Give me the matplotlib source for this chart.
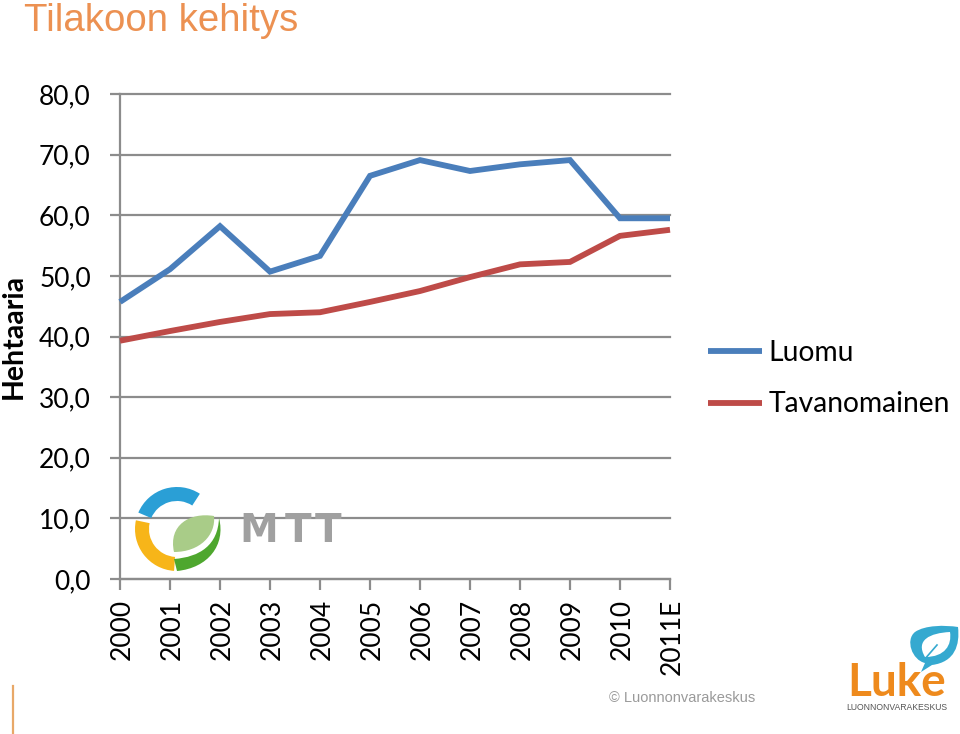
import matplotlib
matplotlib.use("Agg")
import matplotlib.pyplot as plt
from matplotlib.patches import Wedge, PathPatch
from matplotlib.path import Path
from matplotlib.transforms import ScaledTranslation

years = ['2000', '2001', '2002', '2003', '2004', '2005', '2006', '2007', '2008', '2009', '2010', '2011E']
luomu = [45.7, 51.1, 58.2, 50.7, 53.3, 66.5, 69.1, 67.3, 68.4, 69.1, 59.5, 59.5]
tavanomainen = [39.3, 40.9, 42.4, 43.7, 44.0, 45.7, 47.5, 49.8, 51.9, 52.3, 56.6, 57.6]
y_ticks = [0, 10, 20, 30, 40, 50, 60, 70, 80]
y_labels = ['0,0', '10,0', '20,0', '30,0', '40,0', '50,0', '60,0', '70,0', '80,0']

W, H = 960, 734
fs = 19
gc = '#8c8c8c'

fig = plt.figure(figsize=(W / 100, H / 100), dpi=100)
ax = fig.add_axes([120 / W, 1 - 579 / H, 550 / W, 485 / H])

x = list(range(len(years)))
ax.plot(x, luomu, color='#4a7ebb', lw=4.2, label='Luomu', solid_joinstyle='miter', solid_capstyle='butt', clip_on=False, zorder=3)
ax.plot(x, tavanomainen, color='#be4b48', lw=4.2, label='Tavanomainen', solid_joinstyle='miter', solid_capstyle='butt', clip_on=False, zorder=3)

ax.set_xlim(0, 11)
ax.set_ylim(0, 80)
ax.set_yticks(y_ticks, y_labels, size=fs, family='Lato')
ax.set_xticks(x, years, size=fs, family='Lato', rotation=90)
ax.grid(axis='y', color=gc, lw=1.6, clip_on=False)
ax.set_axisbelow(True)
ax.tick_params(axis='y', length=7, width=1.6, color=gc, pad=14)
ax.tick_params(axis='x', length=8, width=1.6, color=gc, pad=6.5)
# year labels sit a little right of their ticks
shift = ScaledTranslation(2 / 100, 0, fig.dpi_scale_trans)
for lab in ax.get_xticklabels():
    lab.set_transform(lab.get_transform() + shift)
for s in ['top', 'right']:
    ax.spines[s].set_visible(False)
for s in ['left', 'bottom']:
    ax.spines[s].set_color(gc)
    ax.spines[s].set_linewidth(1.6)

ax.legend(loc='upper left', bbox_to_anchor=(708 / W, 1 - 340 / H), bbox_transform=fig.transFigure,
          frameon=False, prop={'family': 'Lato', 'size': 20.3}, handlelength=1.92, handletextpad=0.22,
          labelspacing=0.9, borderpad=0, borderaxespad=0)

# overlay in pixel coords for the title, logos and footer
ov = fig.add_axes([0, 0, 1, 1], facecolor='none')
ov.set_xlim(0, W)
ov.set_ylim(H, 0)
ov.axis('off')

ov.text(24, 31, 'Tilakoon kehitys', color='#ec9152', size=27.6, family='Liberation Sans', va='baseline')
ov.text(13.5, 336, 'Hehtaaria', rotation=90, size=20.5, weight='bold', family='Lato', ha='center', va='center')
ov.text(609, 698, '© Luonnonvarakeskus', color='#9a9a9a', size=10.5, family='Liberation Sans', va='center')
ov.plot([13, 13], [686, 734], color='#e8a868', lw=1.6)

# MTT logo
ov.add_patch(Wedge((177, 529), 42, 203, 303, width=14, fc='#2a9fd6', ec='none'))
ov.add_patch(Wedge((177, 529), 42, 94, 192, width=14, fc='#f7b519', ec='none'))
leaf = [(174, 552), (168, 525), (190, 512), (214, 516), (216, 535), (200, 552), (174, 552)]
ov.add_patch(PathPatch(Path(leaf, [1, 4, 4, 4, 4, 4, 4]), fc='#a9cc88', ec='none'))
cres = [(219, 518), (226, 545), (208, 568), (177, 571), (174, 559), (200, 557), (218, 545), (219, 518)]
ov.add_patch(PathPatch(Path(cres, [1, 4, 4, 4, 2, 4, 4, 4]), fc='#4ea72e', ec='none'))
ov.text(259, 531, 'M', color='#a0a0a0', size=28, weight='bold', family='DejaVu Sans', ha='center', va='center')
ov.text(298, 531, 'T', color='#a0a0a0', size=28, weight='bold', family='DejaVu Sans', ha='center', va='center')
ov.text(328, 531, 'T', color='#a0a0a0', size=28, weight='bold', family='DejaVu Sans', ha='center', va='center')

# Luke logo
bubble = [(921, 672), (925, 663), (912, 660), (905, 640), (915, 632), (925, 625), (945, 625), (958, 627),
          (960, 645), (955, 662), (932, 665), (921, 672)]
ov.add_patch(PathPatch(Path(bubble, [1, 2, 4, 4, 4, 4, 4, 4, 4, 4, 4, 2]), fc='#35a9d0', ec='none'))
leaf2 = [(925, 657), (915, 640), (930, 633), (950, 632), (952, 645), (945, 657), (925, 657)]
ov.add_patch(PathPatch(Path(leaf2, [1, 4, 4, 4, 4, 4, 4]), fc='white', ec='none'))
ov.plot([924, 937], [660, 645], color='#35a9d0', lw=1.2)
ov.text(897, 683, 'Luke', color='#ee8a1d', size=33, weight='bold', family='Lato', ha='center', va='center')
ov.text(897, 708, 'LUONNONVARAKESKUS', color='#555555', size=6.2, family='Liberation Sans', ha='center', va='center')

plt.savefig('out.png', dpi=100)
